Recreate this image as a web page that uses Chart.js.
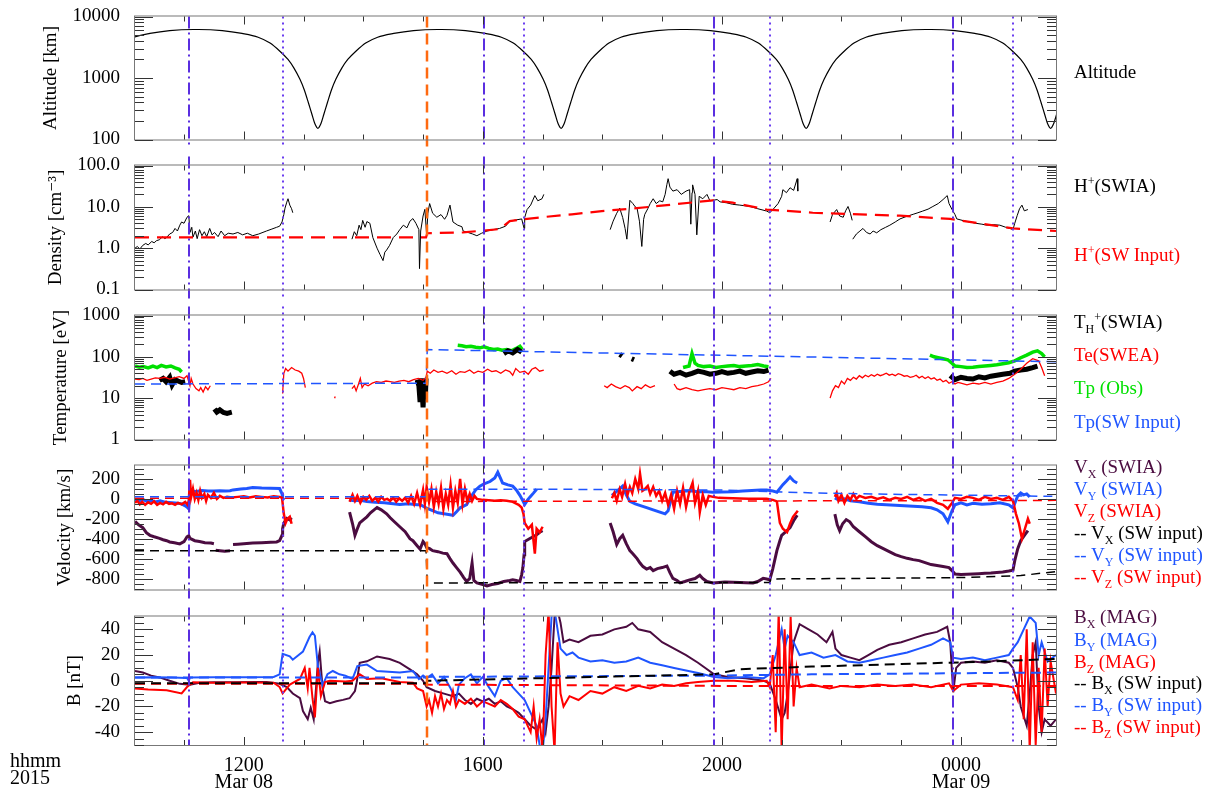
<!DOCTYPE html>
<html lang="en">
<head>
<meta charset="UTF-8">
<title>MAVEN overview 2015 Mar 08-09</title>
<script src="https://cdn.jsdelivr.net/npm/chart.js@4.4.1/dist/chart.umd.min.js"></script>
<style>
    body { margin: 0; background: #fff; font-family: 'Liberation Serif', 'DejaVu Serif', serif; }
    #stack { position: relative; width: 1219px; height: 794px; overflow: hidden; }
    #stack canvas { position: absolute; left: 0; }
    .lbl { position: absolute; left: 1074px; font-size: 19px; line-height: 22px; white-space: nowrap; z-index: 5; }
    .lbl sub, .lbl sup { font-size: 12px; line-height: 0; }
    #hhmm { position: absolute; left: 10px; top: 752px; font-size: 20px; line-height: 17px; }
</style>
</head>
<body>
<div id="stack">
    <canvas id="altChart" width="1219" height="156" style="top:0px"></canvas>
    <canvas id="densChart" width="1219" height="157" style="top:149px"></canvas>
    <canvas id="tempChart" width="1219" height="157" style="top:299px"></canvas>
    <canvas id="velChart" width="1219" height="157" style="top:449px"></canvas>
    <canvas id="magChart" width="1219" height="194" style="top:600px"></canvas>

    <div class="lbl" style="top:61px">Altitude</div>
    <div class="lbl" style="top:175px">H<sup>+</sup>(SWIA)</div>
    <div class="lbl" style="top:244px;color:#ff0000">H<sup>+</sup>(SW Input)</div>
    <div class="lbl" style="top:311px">T<sub>H</sub><sup>+</sup>(SWIA)</div>
    <div class="lbl" style="top:344px;color:#ff0000">Te(SWEA)</div>
    <div class="lbl" style="top:377px;color:#00e000">Tp (Obs)</div>
    <div class="lbl" style="top:411px;color:#1f55ff">Tp(SW Input)</div>
    <div class="lbl" style="top:456px;color:#4b0c40">V<sub>X</sub> (SWIA)</div>
    <div class="lbl" style="top:478px;color:#1f55ff">V<sub>Y</sub> (SWIA)</div>
    <div class="lbl" style="top:500px;color:#ff0000">V<sub>Z</sub> (SWIA)</div>
    <div class="lbl" style="top:522px">-- V<sub>X</sub> (SW input)</div>
    <div class="lbl" style="top:544px;color:#1f55ff">-- V<sub>Y</sub> (SW input)</div>
    <div class="lbl" style="top:566px;color:#ff0000">-- V<sub>Z</sub> (SW input)</div>
    <div class="lbl" style="top:606px;color:#4b0c40">B<sub>X</sub> (MAG)</div>
    <div class="lbl" style="top:629px;color:#1f55ff">B<sub>Y</sub> (MAG)</div>
    <div class="lbl" style="top:651px;color:#ff0000">B<sub>Z</sub> (MAG)</div>
    <div class="lbl" style="top:672px">-- B<sub>X</sub> (SW input)</div>
    <div class="lbl" style="top:694px;color:#1f55ff">-- B<sub>Y</sub> (SW input)</div>
    <div class="lbl" style="top:716px;color:#ff0000">-- B<sub>Z</sub> (SW input)</div>
    <div id="hhmm">hhmm<br>2015</div>
</div>
<script>
// time axis, hours since 2015-03-08 00:00 UT
const xStartH = 10.18, xEndH = 25.59;
const xTickHours = [11, 12, 13, 14, 15, 16, 17, 18, 19, 20, 21, 22, 23, 24, 25];
const xTickLabels = { 12: ['1200', 'Mar 08'], 16: ['1600'], 20: ['2000'], 24: ['0000', 'Mar 09'] };

// event markers (hours)
const dashDotH = [11.08, 16.02, 19.87, 23.87];
const dottedH = [12.65, 16.69, 20.80, 24.87];
const shockH = [15.06];

// y tick values / labels per panel
const altTicks = [100, 1000, 10000], altTickLabels = ['100', '1000', '10000'];
const densTicks = [0.1, 1, 10, 100], densTickLabels = ['0.1', '1.0', '10.0', '100.0'];
const tempTicks = [1, 10, 100, 1000], tempTickLabels = ['1', '10', '100', '1000'];
const velTicks = [-800, -600, -400, -200, 0, 200], velTickLabels = ['-800', '-600', '-400', '-200', '0', '200'];
const magTicks = [-40, -20, 0, 20, 40], magTickLabels = ['-40', '-20', '0', '20', '40'];

// altitude: one orbit profile (offset from periapsis, km) repeated at each periapsis
const periapsisH = [9.16, 13.24, 17.31, 21.41, 25.50];
const orbitOffsetH = [-2.0, -1.6, -1.27, -1.0, -0.8, -0.64, -0.5, -0.4, -0.3, -0.23, -0.16, -0.1, -0.05, 0,
    0.05, 0.1, 0.16, 0.23, 0.3, 0.4, 0.5, 0.64, 0.8, 1.0, 1.27, 1.6, 2.0];
const orbitAltKm = [6150, 5900, 5300, 4600, 3700, 2750, 2000, 1450, 950, 650, 400, 257, 180, 152,
    180, 257, 400, 650, 950, 1450, 2000, 2750, 3700, 4600, 5300, 5900, 6150];

// H+ density (SWIA), cm^-3
const densSwiaT = [
    10.18,10.22,10.26,10.31,10.36,10.40,10.46,10.50,10.54,10.59,
    10.64,10.68,10.71,10.76,10.81,10.85,10.89,10.93,10.96,11.00,
    11.05,11.08,11.10,11.13,11.15,11.19,11.22,11.26,11.30,11.34,
    11.38,11.43,11.47,11.51,11.57,11.62,11.68,11.74,11.82,11.90,
    11.98,12.06,12.15,12.25,12.38,12.47,12.55,12.60,12.64,12.67,
    12.69,12.72,12.74,12.77,12.80,12.82,12.90,
    13.81,13.85,13.89,13.93,13.96,13.99,14.03,14.06,14.11,14.16,
    14.23,14.28,14.33,14.36,14.39,14.44,14.50,14.56,14.61,14.67,
    14.73,14.78,14.83,14.88,14.93,14.94,14.96,15.00,15.03,15.06,
    15.08,15.11,15.16,15.23,15.30,15.36,15.40,15.45,15.50,15.58,
    15.65,15.67,15.75,15.83,15.90,15.98,16.07,16.17,16.28,16.38,
    16.45,16.55,16.65,16.69,16.70,16.74,16.80,16.87,16.92,16.99,
    17.02,17.10,
    18.13,18.18,18.24,18.29,18.34,18.38,18.41,18.44,18.46,18.51,
    18.55,18.58,18.62,18.66,18.69,18.71,18.76,18.80,18.85,18.90,
    18.96,19.01,19.05,19.08,19.10,19.13,19.18,19.25,19.32,19.40,
    19.46,19.48,19.50,19.51,19.55,19.58,19.62,19.68,19.75,19.80,
    19.85,19.92,19.97,20.08,20.18,20.30,20.47,20.60,20.75,20.80,
    20.85,20.94,21.00,21.02,21.08,21.14,21.20,21.26,21.27,21.35,
    21.81,21.85,21.92,21.97,22.03,22.07,22.11,22.15,22.18,22.185,
    22.19,22.25,22.31,22.36,22.42,22.48,22.53,22.59,22.66,22.74,
    22.81,22.90,22.98,23.08,23.20,23.28,23.36,23.45,23.53,23.62,
    23.70,23.77,23.80,23.85,23.90,23.93,24.00,24.07,24.15,24.25,
    24.35,24.44,24.55,24.65,24.75,24.82,24.87,24.90,24.94,24.98,
    25.02,25.06,25.12];
const densSwia = [
    1.0,1.1,0.95,1.17,1.3,1.2,1.45,1.35,1.52,1.6,
    1.9,1.7,1.82,2.2,2.4,3.0,2.6,3.6,4.3,4.0,
    5.6,6.1,2.4,3.2,1.85,2.6,1.7,2.8,2.0,2.5,
    1.9,3.0,2.1,2.4,1.9,2.6,2.0,2.3,2.2,2.4,
    2.1,2.3,2.0,2.2,2.6,2.9,3.2,3.4,4.3,6.5,
    9.3,13,15.7,11,9,7.2,null,
    1.65,2.5,2.0,3.6,2.8,4.7,3.2,4.4,4.0,1.8,
    1.0,0.7,0.5,0.8,0.9,1.17,1.8,2.2,2.8,3.6,
    3.1,4.5,5.2,4.0,2.8,0.32,2.6,6.0,8.7,2.1,
    7.0,12,7.0,5.6,6.5,5.0,6.2,11,4.3,3.6,
    3.3,2.6,2.4,2.2,2.0,2.3,2.6,2.8,3.0,3.4,
    4.5,4.8,5.1,3.0,5.5,8.6,11,18.7,14,15.7,
    20,null,
    2.8,4.5,7.0,9.3,5.5,3.0,1.65,6.0,14.4,12,
    10,9.3,4.5,1.1,5.0,6.6,9.0,12,15.7,12,
    14,13.2,20,35,48,30,24,26,20,24,
    26,3.8,22,34,20,2.1,18,15.7,20,14,
    14.4,15,13.2,12.5,11.5,11,10.2,9,7.9,7.2,
    8.5,12,18,26,22,29,25,48,24,null,
    4.3,6.5,8.6,6,5.6,8,10.2,7,4.7,null,
    1.65,2.2,2.6,3.0,2.4,2.2,2.6,2.35,2.8,3.2,
    3.6,4.3,5.1,5.8,6.6,7.2,7.9,8.8,10.2,12,
    15,18.7,12,8.6,6.5,5.1,4.8,4.5,4.3,4.0,
    3.8,3.6,3.7,3.6,3.2,3.0,2.8,4.0,6.1,9,
    11,8,8.6];
// H+ density, solar wind input
const densSwT = [10.18,15.05,15.07,15.67,16.28,16.45,16.67,16.99,17.49,17.99,18.51,19.08,19.85,20.18,20.75,21.52,22.98,23.82,24.87,25.59];
const densSw = [1.82,1.82,2.3,2.4,2.9,4.5,5.0,5.6,6.6,7.9,9.1,11,14.4,12.6,8.6,7.2,6.1,5.1,3.0,2.6];

// temperatures, eV
const tempHT = [
    10.59,10.65,10.70,10.76,10.80,10.85,10.90,10.96,11.02,11.04,
    11.51,11.55,11.60,11.66,11.72,11.80,11.82,
    14.90,14.93,14.95,14.97,15.00,15.02,15.04,15.05,15.06,
    16.35,16.42,16.50,16.58,16.65,16.67,
    18.29,18.33,18.35,18.49,18.53,18.55,
    19.13,19.20,19.30,19.40,19.50,19.60,19.70,19.80,19.90,20.00,
    20.10,20.20,20.30,20.40,20.50,20.60,20.70,20.78,20.80,
    23.82,23.90,24.00,24.10,24.20,24.30,24.40,24.50,24.60,24.70,
    24.82,24.90,25.00,25.10,25.20,25.28];
const tempH = [
    27,30,25,32,21,28,26,24,25,null,
    5.5,4.6,5.2,4.5,4.3,4.6,null,
    28,20,8,30,6,25,12,30,null,
    120,140,125,150,130,null,
    115,105,null,90,85,null,
    45,38,42,36,40,45,42,38,40,44,
    40,42,45,40,43,46,44,48,null,
    35,28,32,30,29,33,31,34,36,38,
    40,45,48,50,55,60];
const teT = [
    10.18,10.25,10.31,10.38,10.45,10.52,10.60,10.68,10.76,10.84,
    10.92,11.00,11.05,11.08,11.10,11.12,11.15,11.20,11.25,11.28,
    11.32,11.36,11.40,11.44,11.46,
    12.65,12.67,12.70,12.74,12.80,12.86,12.92,12.97,13.00,13.03,13.05,
    13.52,13.53,13.54,
    13.81,13.85,13.88,13.92,13.95,13.98,14.02,14.08,14.15,14.22,
    14.30,14.38,14.45,14.52,14.60,14.68,14.76,14.84,14.92,15.00,
    15.05,15.07,15.12,15.18,15.25,15.32,15.40,15.48,15.55,15.62,
    15.70,15.78,15.85,15.92,16.00,16.08,16.15,16.22,16.30,16.38,
    16.45,16.50,16.55,16.62,16.70,16.76,16.82,16.88,16.95,17.02,17.05,
    18.03,18.08,18.15,18.22,18.30,18.38,18.45,18.50,18.58,18.65,
    18.72,18.80,18.88,18.90,
    19.20,19.25,19.30,19.40,19.50,19.60,19.70,19.80,19.90,20.00,
    20.10,20.20,20.30,20.40,20.50,20.60,20.70,20.78,20.82,20.84,
    21.81,21.85,21.90,21.95,22.00,22.05,22.10,22.15,22.20,22.25,
    22.30,22.35,22.40,22.45,22.50,22.55,22.60,22.65,22.70,22.75,
    22.80,22.85,22.90,22.95,23.00,23.05,23.10,23.15,23.20,23.25,
    23.30,23.35,23.40,23.45,23.50,23.55,23.60,23.65,23.70,23.75,
    23.80,23.85,23.90,23.95,24.00,24.10,24.20,24.30,24.40,24.50,
    24.60,24.70,24.80,24.90,25.00,25.10,25.20,25.30,25.35,25.40];
const te = [
    29,28,30,27,29,31,30,32,29,31,
    33,30,35,25,20,30,22,17,15,18,
    14,19,16,20,null,
    13,40,52,45,55,48,45,40,30,18,null,
    10,11,null,
    17,20,15,22,30,18,22,20,23,25,
    24,26,25,24,26,27,25,28,30,27,
    32,45,40,48,42,45,40,46,38,44,
    42,48,40,45,42,50,44,46,40,48,
    44,36,52,42,45,38,50,55,45,48,null,
    20,18,22,19,17,20,18,15,19,17,
    21,18,20,null,
    22,17,16,18,16,15,16,17,16,18,
    17,16,18,17,19,20,22,25,30,null,
    10,15,20,18,26,22,30,27,32,29,
    35,31,36,33,37,34,38,35,37,40,
    36,38,35,39,37,34,35,32,33,36,
    31,34,30,33,29,31,27,29,25,27,
    23,25,22,24,23,21,23,22,24,22,
    24,26,30,38,50,70,90,80,55,35];
const tpObsT = [
    10.18,10.25,10.32,10.40,10.48,10.55,10.62,10.70,10.78,10.85,
    10.92,10.96,10.98,
    15.58,15.65,15.72,15.80,15.88,15.95,16.02,16.10,16.18,16.25,
    16.32,16.40,16.48,16.56,16.62,16.66,16.68,
    19.35,19.45,19.50,19.55,19.60,19.70,19.80,19.90,20.00,20.10,
    20.20,20.30,20.40,20.50,20.60,20.70,20.78,20.80,
    23.48,23.55,23.62,23.70,23.78,23.85,23.90,24.00,24.10,24.20,
    24.30,24.40,24.50,24.60,24.70,24.80,24.90,25.00,25.10,25.20,
    25.28,25.35,25.40];
const tpObs = [
    60,56,58,54,60,55,62,57,60,54,
    50,43,null,
    190,185,175,180,170,165,175,160,150,155,
    145,150,140,160,180,150,null,
    55,60,120,70,62,58,60,55,58,60,
    62,58,60,62,65,60,58,null,
    110,100,95,90,85,70,60,58,55,56,
    58,60,62,64,68,72,80,95,110,130,
    140,120,100];
const tpSwT = [10.18, 15.05, 15.07, 25.59];
const tpSw = [22, 23, 150, 76];

// velocity, km/s
const vxT = [
    10.18,10.24,10.31,10.37,10.43,10.50,10.59,10.65,10.71,10.76,
    10.84,10.93,11.00,11.05,11.08,11.10,11.18,11.26,11.35,11.45,
    11.50,11.52,11.53,11.60,11.68,11.77,11.79,11.82,11.90,12.00,
    12.15,12.30,12.45,12.55,12.60,12.64,12.65,12.67,12.72,12.77,
    12.80,12.85,
    13.77,13.82,13.86,13.90,13.94,14.00,14.06,14.12,14.18,14.23,
    14.30,14.39,14.45,14.52,14.61,14.70,14.78,14.83,14.90,14.95,
    15.00,15.03,15.06,15.11,15.16,15.25,15.33,15.40,15.45,15.50,
    15.56,15.62,15.68,15.73,15.78,15.82,15.85,15.90,16.00,16.07,
    16.15,16.25,16.35,16.45,16.50,16.56,16.62,16.65,16.67,16.69,
    16.70,16.78,16.84,16.90,16.95,17.00,17.05,
    18.13,18.18,18.24,18.29,18.34,18.40,18.46,18.51,18.58,18.63,
    18.68,18.74,18.80,18.85,18.92,19.00,19.08,19.13,19.18,19.25,
    19.30,19.38,19.46,19.55,19.63,19.68,19.75,19.85,19.95,20.05,
    20.18,20.30,20.40,20.52,20.60,20.69,20.75,20.80,20.85,20.92,
    20.97,21.00,21.07,21.14,21.20,21.26,21.30,
    21.89,21.93,21.97,22.02,22.08,22.14,22.20,22.30,22.40,22.50,
    22.60,22.70,22.80,22.90,23.00,23.10,23.20,23.30,23.40,23.50,
    23.60,23.70,23.80,23.85,23.90,24.00,24.10,24.20,24.30,24.40,
    24.50,24.60,24.70,24.80,24.87,24.90,24.95,25.00,25.07,25.12];
const vx = [
    -227,-260,-289,-340,-366,-380,-396,-410,-420,-433,
    -440,-452,-430,-381,-370,-396,-420,-428,-440,-443,
    -450,null,-515,-520,-525,-520,null,-458,-455,-450,
    -443,-440,-436,-433,-420,-366,-300,-242,-196,-211,
    -190,null,
    -134,-250,-366,-300,-242,-210,-180,-140,-110,-88,
    -110,-150,-190,-230,-280,-330,-400,-420,-470,-505,
    -428,-450,-489,-500,-520,-530,-545,-551,-600,-644,
    -690,-736,-790,-829,-800,-644,-820,-844,-860,-875,
    -860,-850,-830,-820,-813,-820,-829,-760,-690,-560,
    -428,-400,-381,-360,-335,-320,null,
    -242,-330,-458,-400,-366,-450,-520,-551,-600,-644,
    -680,-705,-690,-720,-700,-690,-674,-740,-798,-820,
    -844,-830,-813,-800,-767,-800,-830,-844,-840,-835,
    -838,-840,-842,-844,-830,-798,-805,-813,-705,-520,
    -420,-366,-330,-289,-220,-165,null,
    -153,-260,-319,-250,-208,-230,-280,-330,-380,-430,
    -470,-500,-530,-560,-580,-597,-610,-620,-640,-660,
    -670,-680,-690,-720,-755,-760,-758,-755,-752,-748,
    -745,-740,-735,-725,-717,-620,-500,-420,-360,-319];
const vyT = [
    10.18,10.25,10.31,10.38,10.45,10.52,10.60,10.70,10.80,10.90,
    10.96,11.02,11.06,11.08,11.10,11.20,11.30,11.40,11.50,11.60,
    11.70,11.77,11.82,11.95,12.05,12.15,12.30,12.45,12.60,12.64,
    12.65,12.68,12.72,
    13.77,13.85,13.95,14.06,14.20,14.35,14.50,14.61,14.75,14.90,
    14.95,15.05,15.16,15.25,15.35,15.45,15.50,15.56,15.62,15.73,
    15.80,15.88,15.95,16.02,16.12,16.20,16.25,16.30,16.33,16.42,
    16.50,16.56,16.62,16.67,16.70,16.75,16.79,16.85,16.90,16.95,
    18.16,18.25,18.34,18.40,18.46,18.55,18.65,18.74,18.85,18.95,
    19.05,19.10,19.18,19.30,19.40,19.51,19.60,19.70,19.85,20.00,
    20.18,20.35,20.50,20.65,20.75,20.85,20.92,21.02,21.08,21.14,
    21.20,21.26,21.30,
    21.89,21.95,22.05,22.15,22.30,22.45,22.60,22.75,22.90,23.05,
    23.20,23.35,23.50,23.60,23.70,23.78,23.85,23.90,24.00,24.10,
    24.20,24.35,24.50,24.65,24.80,24.87,24.95,25.00,25.05,25.10,
    25.15];
const vy = [
    -10,-20,-5,-25,-15,-30,-20,-35,-40,-45,
    -50,-70,-88,-100,81,75,85,80,78,82,
    80,81,90,100,105,113,108,106,104,51,
    5,-10,null,
    -11,-20,-15,-26,-35,-40,-50,-57,-50,-60,
    -57,-90,-119,-140,-150,-160,-165,-130,-90,-57,
    20,90,128,150,174,210,267,200,159,140,
    128,90,35,-20,-57,-10,20,60,97,null,
    35,80,128,40,-26,-50,-70,-88,-110,-130,
    -150,-120,67,75,80,81,70,75,67,70,
    72,80,85,88,90,80,67,143,180,220,
    180,159,null,
    10,-10,0,-20,-30,-45,-55,-60,-65,-70,
    -75,-80,-90,-110,-150,-230,-120,-60,-40,-60,
    -45,-55,-50,-40,-60,-90,30,60,40,50,
    20];
const vzT = [
    10.18,10.22,10.26,10.30,10.35,10.40,10.45,10.50,10.55,10.60,
    10.65,10.70,10.75,10.80,10.85,10.90,10.96,11.02,11.06,11.08,
    11.10,11.12,11.15,11.18,11.21,11.24,11.27,11.30,11.34,11.37,
    11.40,11.45,11.50,11.55,11.60,11.66,11.72,11.80,11.90,12.00,
    12.10,12.20,12.30,12.40,12.50,12.60,12.64,12.67,12.70,12.73,
    12.77,12.80,12.85,
    13.77,13.82,13.86,13.90,13.95,14.00,14.05,14.10,14.15,14.20,
    14.25,14.30,14.35,14.40,14.45,14.50,14.55,14.60,14.65,14.70,
    14.75,14.80,14.85,14.90,14.95,15.00,15.03,15.06,15.10,15.14,
    15.18,15.22,15.26,15.30,15.34,15.38,15.42,15.46,15.50,15.54,
    15.58,15.62,15.66,15.70,15.74,15.78,15.82,15.86,15.90,16.00,
    16.10,16.20,16.30,16.40,16.50,16.60,16.65,16.68,16.70,16.76,
    16.82,16.87,16.90,16.95,17.00,17.05,
    18.16,18.20,18.24,18.29,18.33,18.38,18.42,18.46,18.50,18.55,
    18.60,18.63,18.67,18.71,18.76,18.80,18.85,18.90,18.95,19.00,
    19.05,19.10,19.15,19.20,19.25,19.30,19.35,19.40,19.45,19.51,
    19.55,19.60,19.63,19.68,19.73,19.78,19.85,19.95,20.05,20.18,
    20.30,20.45,20.60,20.75,20.85,20.92,20.97,21.02,21.09,21.14,
    21.19,21.27,21.30,
    21.89,21.92,21.95,22.00,22.05,22.10,22.15,22.20,22.25,22.30,
    22.40,22.50,22.60,22.70,22.80,22.90,23.00,23.10,23.20,23.30,
    23.40,23.50,23.60,23.70,23.78,23.85,23.90,24.00,24.10,24.20,
    24.30,24.40,24.50,24.60,24.70,24.80,24.87,24.92,24.97,25.02,
    25.07,25.12,25.15];
const vz = [
    -40,-20,-55,-30,-60,-35,-50,-25,-60,-40,
    -55,-30,-50,-45,-60,-40,-55,-30,-60,-20,
    190,20,100,0,60,-10,80,10,50,-20,
    40,10,60,0,30,10,20,15,20,25,
    15,25,20,15,25,20,10,-150,-242,-200,
    -180,-250,null,
    -30,40,-20,30,-40,20,-10,30,-20,10,
    -30,20,-10,0,-20,10,-30,5,-20,10,
    -40,30,-50,60,-60,90,-50,120,-30,100,
    -80,70,-50,110,-100,50,-60,140,-90,80,
    -40,200,-50,100,-20,50,-20,30,0,-10,
    -15,-20,-15,-20,-30,-60,-88,-150,-242,-300,
    -260,-551,-300,-335,-280,null,
    5,60,-20,97,20,150,40,120,60,200,
    100,252,80,97,130,50,120,30,80,-20,
    60,-60,40,-100,80,-50,110,-80,60,162,
    -40,80,-134,40,-60,30,20,10,8,5,
    3,2,0,0,-10,-26,-242,-300,-335,-250,
    -180,-119,null,
    20,60,-20,40,-40,30,-10,50,0,30,
    10,20,0,15,-10,10,0,20,-10,10,
    -20,0,-40,-60,-100,-40,10,0,20,10,
    -10,20,0,10,-10,20,-20,-150,-250,-400,
    -300,-200,-250];
const vxSwT = [10.18, 15.05, 15.07, 20.80, 20.82, 22.50, 24.00, 25.00, 25.59];
const vxSw = [-520, -520, -844, -840, -804, -798, -790, -770, -730];
const vySwT = [10.18, 15.05, 15.07, 18.00, 20.00, 21.52, 23.00, 25.59];
const vySw = [20, 20, 97, 95, 88, 60, 45, 25];
const vzSwT = [10.18, 15.05, 15.07, 21.50, 25.59];
const vzSw = [5, 5, -26, -20, -15];

// magnetic field, nT
const bxT = [
    10.18,10.31,10.45,10.59,10.76,10.93,11.05,11.10,11.26,11.50,
    11.82,12.20,12.38,12.60,12.72,12.82,12.94,12.99,13.07,13.12,
    13.17,13.21,13.24,13.27,13.30,13.32,13.36,13.44,13.55,13.66,
    13.77,13.86,13.89,13.94,14.06,14.23,14.44,14.61,14.78,14.90,
    15.00,15.06,15.20,15.35,15.50,15.60,15.70,15.80,15.90,16.00,
    16.10,16.20,16.30,16.40,16.50,16.60,16.70,16.80,16.90,17.00,
    17.05,17.10,17.15,17.20,17.25,17.30,17.35,17.45,17.60,17.80,
    18.00,18.20,18.40,18.50,18.60,18.80,19.00,19.20,19.40,19.60,
    19.87,20.10,20.40,20.70,20.80,20.90,21.00,21.05,21.10,21.15,
    21.20,21.30,21.45,21.60,21.75,21.85,21.90,22.00,22.15,22.30,
    22.45,22.60,22.80,23.00,23.20,23.40,23.60,23.77,23.82,23.87,
    23.92,24.00,24.20,24.40,24.60,24.80,24.87,24.95,25.00,25.10,
    25.15,25.20,25.25,25.30,25.35,25.40,25.50,25.59];
const bx = [
    7.6,6.4,4,2.6,0,-2.4,-3,-3.1,-1.6,-1.2,
    -1.1,-1.0,-1,-2.4,-4.9,-9.9,-13.6,-23.6,-29.9,-21,
    -30,-5,13.9,22.7,5,-6.1,-16,-17.4,-16,-14.9,
    -13.6,-8,-1.1,13.9,15.1,18.9,16.9,13.9,8.9,5.1,
    0,-5,-8,-10,-12,-10,-15,-18,-14,-16,
    -14,-18,-16,-20,-22,-25,-30,-35,-38,-30,
    -40,-20,10,50,55,45,30,32,30,35,
    36,40,42,45,40,38,30,25,20,14,
    5,3,2,0,-2,-15,-30,-25,-10,10,
    30,44,40,36,30,38,25,20,18,16,
    20,24,28,30,33,36,38,42,30,-9,
    10,14,15,14,16,14,10,-5,-20,-35,
    -10,20,30,-20,-40,-30,-35,-30];
const byT = [
    10.18,10.50,10.80,11.05,11.08,11.10,11.50,12.00,12.50,12.60,
    12.65,12.77,12.82,12.99,13.10,13.15,13.19,13.24,13.32,13.40,
    13.49,13.60,13.70,13.82,13.90,14.06,14.23,14.61,14.83,14.93,
    15.00,15.06,15.15,15.25,15.35,15.45,15.55,15.60,15.70,15.80,
    15.90,16.00,16.10,16.20,16.30,16.40,16.50,16.60,16.70,16.80,
    16.90,16.95,17.00,17.05,17.10,17.15,17.20,17.25,17.30,17.40,
    17.50,17.60,17.80,18.00,18.20,18.40,18.60,18.80,19.00,19.20,
    19.40,19.60,19.87,20.10,20.40,20.70,20.80,20.90,21.00,21.05,
    21.10,21.20,21.30,21.50,21.70,21.90,22.10,22.30,22.50,22.70,
    22.90,23.10,23.30,23.50,23.70,23.82,23.87,24.00,24.20,24.40,
    24.60,24.80,24.87,24.95,25.05,25.15,25.25,25.30,25.35,25.45,
    25.59];
const by = [
    2.6,2.8,2.5,2.2,0,2.6,2.8,2.7,3,5,
    21,19,16.4,22.7,34,37.7,35,11.4,-3.6,5.1,
    7.6,5,4,1.4,11.4,12.6,7.6,6.4,7.6,1.4,
    4,2,5,-2,3,-5,-15,-3,2,5,
    -2,3,-5,-12,0,2,-5,-10,-15,-25,
    -35,-50,-55,-30,10,50,55,40,25,20,
    22,18,15,16,14,15,18,14,12,10,
    8,6,3,2,3,2,5,20,40,25,
    35,30,20,22,18,20,15,14,16,18,
    20,22,25,28,33,30,18,17,18,16,
    18,20,25,30,40,50,45,20,30,15,
    20];
const bzT = [
    10.18,10.40,10.71,10.96,11.05,11.15,11.50,12.00,12.50,12.60,
    12.65,12.77,12.94,13.02,13.07,13.10,13.15,13.19,13.24,13.29,
    13.36,13.44,13.70,13.82,13.94,14.06,14.30,14.61,14.83,14.90,
    15.00,15.06,15.10,15.15,15.20,15.25,15.30,15.35,15.40,15.45,
    15.50,15.55,15.60,15.70,15.80,15.90,16.00,16.10,16.20,16.30,
    16.40,16.50,16.60,16.70,16.80,16.85,16.90,16.95,17.00,17.05,
    17.10,17.15,17.20,17.25,17.30,17.35,17.45,17.60,17.80,18.00,
    18.20,18.40,18.60,18.80,19.00,19.20,19.40,19.60,19.87,20.20,
    20.50,20.75,20.80,20.85,20.90,20.95,21.00,21.05,21.10,21.15,
    21.20,21.25,21.30,21.50,21.80,22.00,22.30,22.60,22.90,23.20,
    23.50,23.80,23.87,24.00,24.30,24.60,24.87,24.95,25.00,25.05,
    25.10,25.15,25.20,25.25,25.30,25.35,25.40,25.45,25.50,25.59];
const bz = [
    -6.1,-6.8,-7.4,-9.9,-4.9,-1.1,-1.5,-1.3,-1.5,-4.9,
    -9.9,-3,1.4,10,-6,10,-13.6,-28.6,10,-12,
    -1,0,-0.5,0,5,1.4,2,-1,-1.5,-6,
    -8,-20,-15,-25,-12,-20,-10,-22,-15,-18,
    -8,-20,-15,-18,-14,-20,-16,-18,-20,-15,
    -18,-22,-28,-30,-40,-20,-45,-30,-55,20,
    55,-20,-55,30,-10,-20,-12,-15,-8,-10,
    -5,-8,-4,-6,-3,-4,-2,-1,0,0,
    -1,0,-5,20,-40,55,-55,40,-30,50,
    -20,10,-5,-3,-6,-4,-5,-3,-4,-3,
    -5,-2,-8,-3,-2,-3,-5,-15,20,-30,
    40,-55,30,-50,10,-40,25,-20,15,-10];
const bxSwT = [10.18, 15.05, 15.07, 19.87, 20.30, 21.50, 23.00, 24.50, 25.59];
const bxSw = [-2, -2, 0, 5, 9, 11, 13, 15, 17];
const bySwT = [10.18, 15.05, 15.07, 19.87, 21.50, 25.59];
const bySw = [2.6, 2.6, 3, 4, 5, 6.4];
const bzSwT = [10.18, 15.05, 15.07, 20.00, 25.59];
const bzSw = [-2.4, -2.4, -3, -4, -4];

const FONT = "'Liberation Serif', 'DejaVu Serif', serif";
const PURPLE = '#4b0c40', BLUE = '#1f55ff', RED = '#ff0000', GREEN = '#00e000';

function pts(t, v) {
    return t.map((x, i) => ({ x: x, y: v[i] }));
}

function line(data, color, width, dash) {
    return {
        data: data, borderColor: color, borderWidth: width, borderDash: dash || [],
        pointRadius: 0, fill: false, tension: 0, spanGaps: false
    };
}

function logMinors(min, max) {
    const out = [];
    for (let d = min; d < max * 0.999; d *= 10) {
        for (let k = 2; k <= 9; k++) out.push(d * k);
    }
    return out;
}

function linMinors(min, max, step) {
    const out = [];
    for (let v = min; v <= max; v += step) out.push(v);
    return out;
}

// vertical event lines, carried through the gaps between panels
function markers(first, last) {
    return {
        id: 'markers',
        afterDraw(chart) {
            const { ctx, chartArea: a, scales: { x } } = chart;
            const y0 = first ? a.top : a.top - 9;
            const y1 = last ? a.bottom : a.bottom + 9;
            const draw = (list, color, dash, w) => {
                ctx.save();
                ctx.strokeStyle = color;
                ctx.lineWidth = w;
                ctx.setLineDash(dash);
                list.forEach(h => {
                    const px = Math.round(x.getPixelForValue(h));
                    ctx.beginPath();
                    ctx.moveTo(px, y0);
                    ctx.lineTo(px, y1);
                    ctx.stroke();
                });
                ctx.restore();
            };
            draw(dashDotH, '#5a2ee0', [12, 4, 2, 4], 2);
            draw(dottedH, '#6b3df0', [2, 4], 2);
            draw(shockH, '#ff6a10', [11, 6], 2.5);
        }
    };
}

// box around the plot with inward ticks on all four sides
function frame(majors, minors) {
    return {
        id: 'frame',
        afterDraw(chart) {
            const { ctx, chartArea: a, scales: { x, y } } = chart;
            ctx.save();
            ctx.lineWidth = 1;
            ctx.strokeStyle = '#777';
            ctx.strokeRect(a.left - 0.5, a.top - 0.5, a.right - a.left + 1, a.bottom - a.top + 1);
            ctx.strokeStyle = '#333';
            ctx.beginPath();
            xTickHours.forEach(h => {
                const px = Math.round(x.getPixelForValue(h)) + 0.5;
                const len = xTickLabels[h] ? 8 : 5;
                ctx.moveTo(px, a.top); ctx.lineTo(px, a.top + len);
                ctx.moveTo(px, a.bottom); ctx.lineTo(px, a.bottom - len);
            });
            const ytick = (v, len) => {
                const py = Math.round(y.getPixelForValue(v)) + 0.5;
                if (py < a.top - 1 || py > a.bottom + 1) return;
                ctx.moveTo(a.left, py); ctx.lineTo(a.left + len, py);
                ctx.moveTo(a.right, py); ctx.lineTo(a.right - len, py);
            };
            majors.forEach(v => ytick(v, 18));
            minors.forEach(v => ytick(v, 9));
            ctx.stroke();
            ctx.restore();
        }
    };
}

function panel(id, o) {
    return new Chart(document.getElementById(id), {
        type: 'line',
        data: { datasets: o.datasets },
        options: {
            responsive: false,
            animation: false,
            devicePixelRatio: 1,
            events: [],
            layout: { padding: { left: 0, right: 163, top: o.padTop, bottom: o.padBottom } },
            plugins: { legend: { display: false }, tooltip: { enabled: false } },
            scales: {
                x: {
                    type: 'linear', min: xStartH, max: xEndH, display: !!o.showX,
                    grid: { display: false }, border: { display: false },
                    afterBuildTicks: s => { s.ticks = xTickHours.map(v => ({ value: v })); },
                    afterFit: s => { if (o.showX) s.height = 49; },
                    ticks: {
                        autoSkip: false, maxRotation: 0, padding: 4, color: '#000',
                        font: { family: FONT, size: 20, lineHeight: 0.85 },
                        callback: v => xTickLabels[v] || ''
                    }
                },
                y: {
                    type: o.log ? 'logarithmic' : 'linear', min: o.min, max: o.max,
                    grid: { display: false }, border: { display: false },
                    afterBuildTicks: s => { s.ticks = o.majors.map(v => ({ value: v })); },
                    afterFit: s => { s.width = 135; },
                    ticks: {
                        autoSkip: false, padding: 7, color: '#000',
                        font: { family: FONT, size: 19, lineHeight: 1 },
                        callback: (v, i) => o.labels[i]
                    },
                    title: {
                        display: true, text: o.title, color: '#000',
                        font: { family: FONT, size: 19, lineHeight: 1.2 },
                        padding: { top: o.titlePad, bottom: 0 }
                    }
                }
            }
        },
        plugins: [markers(o.first, o.last), frame(o.majors, o.minors)]
    });
}

// altitude curve
const altPts = [];
periapsisH.forEach(p => orbitOffsetH.forEach((o, i) => altPts.push({ x: p + o, y: orbitAltKm[i] })));
const altLine = line(altPts, '#000', 1.2);
altLine.cubicInterpolationMode = 'monotone';

panel('altChart', {
    log: true, min: 100, max: 10000, majors: altTicks, labels: altTickLabels, minors: logMinors(100, 10000),
    title: 'Altitude [km]', titlePad: 40, padTop: 11, padBottom: 12, first: true,
    datasets: [altLine]
});

panel('densChart', {
    log: true, min: 0.1, max: 100, majors: densTicks, labels: densTickLabels, minors: logMinors(0.1, 100),
    title: 'Density [cm\u207B\u00B3]', titlePad: 45, padTop: 12, padBottom: 12,
    datasets: [
        line(pts(densSwT, densSw), RED, 2.2, [14, 8]),
        line(pts(densSwiaT, densSwia), '#000', 1)
    ]
});

panel('tempChart', {
    log: true, min: 1, max: 1000, majors: tempTicks, labels: tempTickLabels, minors: logMinors(1, 1000),
    title: 'Temperature [eV]', titlePad: 50, padTop: 12, padBottom: 12,
    datasets: [
        line(pts(tpSwT, tpSw), BLUE, 1.5, [10, 6]),
        line(pts(teT, te), RED, 1.3),
        line(pts(tempHT, tempH), '#000', 5),
        line(pts(tpObsT, tpObs), GREEN, 3.5)
    ]
});

panel('velChart', {
    log: false, min: -910, max: 335, majors: velTicks, labels: velTickLabels, minors: linMinors(-900, 300, 50),
    title: 'Velocity [km/s]', titlePad: 54, padTop: 12, padBottom: 12,
    datasets: [
        line(pts(vxSwT, vxSw), '#000', 1.5, [9, 6]),
        line(pts(vySwT, vySw), BLUE, 1.5, [9, 6]),
        line(pts(vzSwT, vzSw), RED, 1.5, [9, 6]),
        line(pts(vzT, vz), RED, 2.5),
        line(pts(vyT, vy), BLUE, 3),
        line(pts(vxT, vx), PURPLE, 3)
    ]
});

panel('magChart', {
    log: false, min: -50, max: 50, majors: magTicks, labels: magTickLabels, minors: linMinors(-50, 50, 5),
    title: 'B [nT]', titlePad: 64, padTop: 12, padBottom: 0, showX: true, last: true,
    datasets: [
        line(pts(bxSwT, bxSw), '#000', 2, [10, 6]),
        line(pts(bySwT, bySw), BLUE, 2, [10, 6]),
        line(pts(bzSwT, bzSw), RED, 2, [10, 6]),
        line(pts(bzT, bz), RED, 2),
        line(pts(byT, by), BLUE, 2),
        line(pts(bxT, bx), PURPLE, 2)
    ]
});
</script>
</body>
</html>
